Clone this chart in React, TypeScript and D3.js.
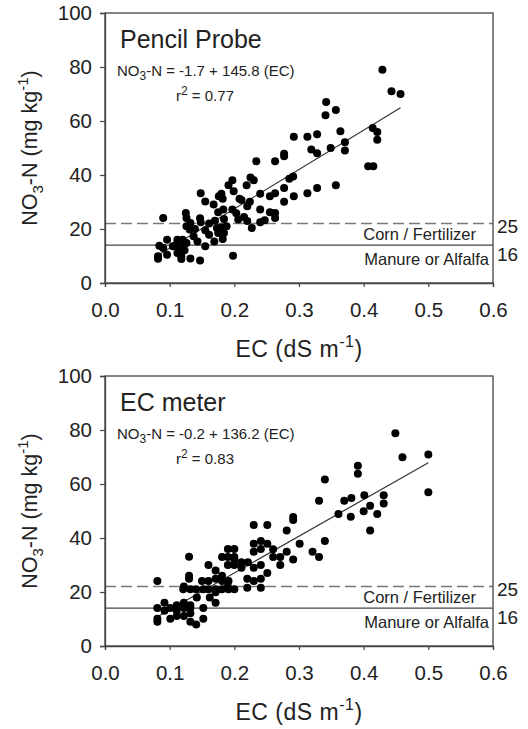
import React, { useEffect, useRef } from 'react';
import * as d3 from 'd3';

type Pt = [number, number];

// EC (dS/m), NO3-N (mg/kg)
const pencilPoints: Pt[] = [
  [0.429, 79.0], [0.443, 71.0], [0.457, 70.0], [0.342, 67.0], [0.341, 62.1], [0.357, 64.1],
  [0.364, 56.2], [0.371, 52.1], [0.371, 49.1], [0.349, 50.0], [0.292, 54.2], [0.313, 54.2],
  [0.328, 55.1], [0.319, 49.4], [0.328, 48.1], [0.277, 47.9], [0.277, 46.9], [0.263, 45.1],
  [0.234, 45.1], [0.414, 57.4], [0.421, 55.9], [0.421, 53.1], [0.407, 43.2], [0.415, 43.2],
  [0.357, 36.2], [0.328, 35.2], [0.313, 33.2], [0.292, 32.1], [0.277, 30.1], [0.285, 38.6],
  [0.291, 39.4], [0.277, 35.2], [0.263, 33.2], [0.255, 32.1], [0.240, 33.1], [0.225, 39.1],
  [0.230, 38.1], [0.219, 36.2], [0.224, 30.1], [0.220, 28.4], [0.240, 27.2], [0.255, 26.2],
  [0.263, 25.9], [0.263, 24.1], [0.247, 23.2], [0.240, 22.5], [0.208, 31.2], [0.211, 30.7],
  [0.197, 38.1], [0.191, 36.2], [0.199, 34.0], [0.197, 27.2], [0.203, 25.8], [0.206, 23.5],
  [0.215, 24.4], [0.220, 23.0], [0.227, 20.4], [0.180, 33.1], [0.182, 31.2], [0.176, 32.1],
  [0.168, 29.1], [0.155, 30.2], [0.148, 33.2], [0.183, 27.2], [0.175, 26.2], [0.184, 23.7],
  [0.170, 23.1], [0.173, 20.4], [0.180, 20.6], [0.188, 21.0], [0.161, 22.0], [0.147, 24.0],
  [0.148, 22.5], [0.155, 19.5], [0.125, 25.9], [0.126, 24.1], [0.132, 22.2], [0.126, 21.0],
  [0.131, 19.8], [0.139, 20.0], [0.137, 17.3], [0.143, 15.4], [0.155, 13.6], [0.161, 17.9],
  [0.169, 15.4], [0.182, 16.3], [0.184, 18.5], [0.175, 18.5], [0.090, 24.1], [0.084, 13.8],
  [0.082, 9.9], [0.082, 9.0], [0.096, 16.0], [0.096, 10.5], [0.090, 13.0], [0.105, 13.6],
  [0.112, 16.0], [0.120, 16.0], [0.113, 13.0], [0.112, 11.1], [0.118, 8.9], [0.121, 13.6],
  [0.123, 12.1], [0.132, 9.1], [0.147, 8.3], [0.198, 10.1], [0.118, 9.9], [0.110, 14.2],
  [0.126, 14.8],
];

// same for the EC meter panel
const meterPoints: Pt[] = [
  [0.449, 78.8], [0.460, 69.9], [0.500, 70.9], [0.500, 56.9], [0.391, 66.8], [0.391, 63.8],
  [0.340, 61.7], [0.331, 53.8], [0.370, 53.8], [0.381, 54.8], [0.401, 55.8], [0.431, 55.8],
  [0.431, 52.8], [0.410, 51.9], [0.400, 49.9], [0.421, 48.9], [0.361, 48.9], [0.380, 47.9],
  [0.410, 42.8], [0.340, 38.9], [0.321, 34.9], [0.331, 33.0], [0.301, 37.9], [0.291, 47.8],
  [0.291, 46.7], [0.281, 42.8], [0.281, 34.9], [0.291, 32.0], [0.271, 33.0], [0.260, 35.8],
  [0.260, 33.0], [0.271, 30.0], [0.230, 44.8], [0.251, 44.8], [0.230, 37.9], [0.241, 38.9],
  [0.251, 37.9], [0.230, 34.9], [0.241, 35.9], [0.221, 31.0], [0.230, 29.0], [0.241, 30.0],
  [0.251, 27.0], [0.241, 24.9], [0.220, 24.9], [0.230, 24.1], [0.241, 21.6], [0.220, 21.6],
  [0.211, 31.0], [0.200, 32.0], [0.190, 35.9], [0.200, 35.9], [0.181, 33.0], [0.190, 33.0],
  [0.200, 33.0], [0.200, 30.0], [0.211, 29.0], [0.190, 30.0], [0.160, 30.0], [0.171, 28.0],
  [0.181, 26.0], [0.191, 24.1], [0.171, 24.9], [0.160, 24.1], [0.150, 24.1], [0.160, 21.0],
  [0.171, 21.0], [0.181, 21.0], [0.191, 21.0], [0.200, 21.0], [0.181, 24.1], [0.190, 22.0],
  [0.171, 19.9], [0.162, 18.0], [0.171, 16.0], [0.130, 33.1], [0.130, 26.0], [0.130, 24.9],
  [0.122, 22.0], [0.121, 21.0], [0.132, 21.0], [0.141, 21.0], [0.142, 18.0], [0.152, 21.0],
  [0.152, 14.1], [0.152, 10.1], [0.141, 8.0], [0.132, 9.0], [0.132, 12.1], [0.122, 14.1],
  [0.111, 15.1], [0.111, 13.1], [0.122, 11.1], [0.101, 10.1], [0.092, 16.0], [0.092, 13.1],
  [0.081, 14.1], [0.081, 10.1], [0.081, 9.0], [0.081, 24.1], [0.101, 14.1], [0.111, 11.1],
  [0.132, 15.1], [0.122, 16.0], [0.132, 14.1],
];

const xTicks = [0, 0.1, 0.2, 0.3, 0.4, 0.5, 0.6];
const yTicks = [0, 20, 40, 60, 80, 100];
const thresholdValues = [22, 14];
const thresholdLabels = ['25', '16'];
const zoneLabels = ['Corn / Fertilizer', 'Manure or Alfalfa'];

const panels = [
  { title: 'Pencil Probe', intercept: -1.7, slope: 145.8, r2: '0.77', points: pencilPoints, top: 13 },
  { title: 'EC meter', intercept: -0.2, slope: 136.2, r2: '0.83', points: meterPoints, top: 376 },
];

const FONT = '"Liberation Sans", Arial, sans-serif';
const INK = '#222';
const AXIS = '#444';

const App: React.FC = () => {
  const svgRef = useRef<SVGSVGElement>(null);

  useEffect(() => {
    if (!svgRef.current) return;
    const svg = d3.select(svgRef.current);
    svg.selectAll('*').remove();

    const left = 105;
    const width = 388;
    const height = 270;

    const x = d3.scaleLinear().domain([0, 0.6]).range([0, width]);
    const y = d3.scaleLinear().domain([0, 100]).range([height, 0]);

    panels.forEach(p => {
      const g = svg.append('g')
        .attr('transform', `translate(${left},${p.top})`)
        .style('font-family', FONT);

      // threshold lines
      g.append('line')
        .attr('x1', 0).attr('x2', width)
        .attr('y1', y(thresholdValues[0])).attr('y2', y(thresholdValues[0]))
        .attr('stroke', '#777').attr('stroke-width', 1.5)
        .attr('stroke-dasharray', '11,5');
      g.append('line')
        .attr('x1', 0).attr('x2', width)
        .attr('y1', y(thresholdValues[1])).attr('y2', y(thresholdValues[1]))
        .attr('stroke', '#444').attr('stroke-width', 1.2);

      // regression line over the data range
      const [xmin, xmax] = d3.extent(p.points, d => d[0]) as [number, number];
      g.append('line')
        .attr('x1', x(xmin)).attr('y1', y(p.intercept + p.slope * xmin))
        .attr('x2', x(xmax)).attr('y2', y(p.intercept + p.slope * xmax))
        .attr('stroke', '#333').attr('stroke-width', 1.2);

      g.selectAll('circle.pt')
        .data(p.points)
        .enter()
        .append('circle')
        .attr('class', 'pt')
        .attr('cx', d => x(d[0]))
        .attr('cy', d => y(d[1]))
        .attr('r', 4)
        .attr('fill', '#000');

      // frame
      g.append('rect')
        .attr('width', width).attr('height', height)
        .attr('fill', 'none').attr('stroke', AXIS).attr('stroke-width', 1.3);

      const yAxis = g.append('g')
        .call(d3.axisLeft(y).tickValues(yTicks).tickSize(5).tickPadding(8).tickFormat(d3.format('d')));
      const xAxis = g.append('g')
        .attr('transform', `translate(0,${height})`)
        .call(d3.axisBottom(x).tickValues(xTicks).tickSize(4).tickPadding(15).tickFormat(d3.format('.1f')));
      [xAxis, yAxis].forEach(a => {
        a.select('.domain').attr('stroke', AXIS).attr('stroke-width', 1.3);
        a.selectAll('line').attr('stroke', AXIS).attr('stroke-width', 1.2);
        a.selectAll('text').attr('fill', INK).style('font-size', '20.5px').style('font-family', FONT);
      });

      // zone and threshold labels
      g.append('text')
        .attr('x', 371).attr('y', y(thresholdValues[0]) + 16)
        .attr('text-anchor', 'end').attr('fill', INK).style('font-size', '16.5px')
        .text(zoneLabels[0]);
      g.append('text')
        .attr('x', 384).attr('y', y(thresholdValues[1]) + 20)
        .attr('text-anchor', 'end').attr('fill', INK).style('font-size', '16.5px')
        .text(zoneLabels[1]);
      g.append('text')
        .attr('x', width + 4).attr('y', y(thresholdValues[0]) + 9)
        .attr('fill', INK).style('font-size', '19px')
        .text(thresholdLabels[0]);
      g.append('text')
        .attr('x', width + 4).attr('y', y(thresholdValues[1]) + 16)
        .attr('fill', INK).style('font-size', '19px')
        .text(thresholdLabels[1]);

      // panel title and fit
      g.append('text')
        .attr('x', 15).attr('y', 35)
        .attr('fill', INK).style('font-size', '25px')
        .text(p.title);
      const eq = g.append('text')
        .attr('x', 12).attr('y', 63)
        .attr('fill', INK).style('font-size', '15px');
      eq.append('tspan').text('NO');
      eq.append('tspan').attr('dy', 4).style('font-size', '12px').text('3');
      eq.append('tspan').attr('dy', -4)
        .text(`-N = ${p.intercept.toFixed(1)} + ${p.slope.toFixed(1)} (EC)`);
      const r = g.append('text')
        .attr('x', 71).attr('y', 88)
        .attr('fill', INK).style('font-size', '15px');
      r.append('tspan').text('r');
      r.append('tspan').attr('dy', -6).style('font-size', '12px').text('2');
      r.append('tspan').attr('dy', 6).text(` = ${p.r2}`);

      // axis titles
      const xt = g.append('text')
        .attr('x', width / 2).attr('y', height + 74)
        .attr('text-anchor', 'middle').attr('fill', INK)
        .style('font-size', '23px').style('letter-spacing', '0.5px');
      xt.append('tspan').text('EC (dS m');
      xt.append('tspan').attr('dy', -10).style('font-size', '16px').text('-1');
      xt.append('tspan').attr('dy', 10).text(')');

      const yt = g.append('text')
        .attr('transform', `translate(${37 - left},${height / 2}) rotate(-90)`)
        .attr('text-anchor', 'middle').attr('fill', INK).style('font-size', '21.5px');
      yt.append('tspan').text('NO');
      yt.append('tspan').attr('dy', 6).style('font-size', '15px').text('3');
      yt.append('tspan').attr('dy', -6).text('-N (mg kg');
      yt.append('tspan').attr('dy', -9).style('font-size', '15px').text('-1');
      yt.append('tspan').attr('dy', 9).text(')');
    });
  }, []);

  return (
    <svg
      ref={svgRef}
      width={528}
      height={729}
      viewBox="0 0 528 729"
      style={{ position: 'absolute', left: 0, top: 0, background: '#fff' }}
    />
  );
};

export default App;
